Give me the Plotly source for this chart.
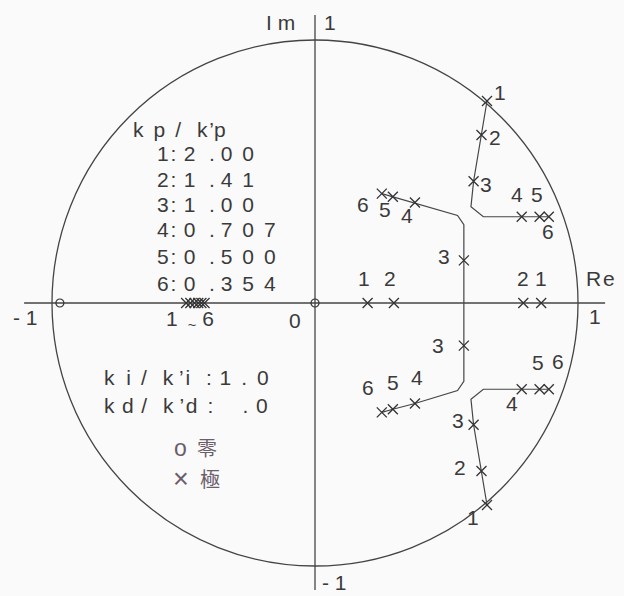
import plotly.graph_objects as go

# ---- root-locus data (z-plane) ----
gains = [1, 2, 3, 4, 5, 6]
kp_ratio = ["2.00", "1.41", "1.00", "0.707", "0.500", "0.354"]

# open-loop zeros
zero_re = [-0.970, 0.0]
zero_im = [0.0, 0.0]

# real pole that stays near -0.45 for every gain (k = 1..6)
left_pole_re = [-0.490, -0.474, -0.458, -0.444, -0.432, -0.420]

# real poles for k = 1, 2 (inner pair before it splits off the axis)
inner_real_k = [1, 2]
inner_real_a = [0.200, 0.300]
inner_real_b = [0.860, 0.792]

# complex inner pair for k = 3..6 (upper half; lower is the conjugate)
inner_k = [3, 4, 5, 6]
inner_re = [0.566, 0.380, 0.296, 0.254]
inner_im = [0.162, 0.382, 0.404, 0.416]

# complex outer pair for k = 1..6 (upper half)
outer_k = [1, 2, 3, 4, 5, 6]
outer_re = [0.654, 0.633, 0.603, 0.786, 0.854, 0.889]
outer_im = [0.768, 0.639, 0.463, 0.328, 0.328, 0.328]

# locus curves traced between the gain points (upper half)
outer_path_re = [0.654, 0.633, 0.603, 0.593, 0.640, 0.786, 0.854, 0.889]
outer_path_im = [0.768, 0.639, 0.463, 0.366, 0.328, 0.328, 0.328, 0.328]
inner_path_re = [0.254, 0.296, 0.380, 0.542, 0.566]
inner_path_im = [0.416, 0.404, 0.382, 0.333, 0.298]

INK = "#3a3a3a"
FONT = "Liberation Sans, Arial, sans-serif"
CJK = "Noto Sans CJK JP, Liberation Sans, sans-serif"
NB = "\u00a0"
TH = "\u2009"
HR = "\u200a"

fig = go.Figure()

# unit circle
fig.add_shape(type="circle", xref="x", yref="y", x0=-1, y0=-1, x1=1, y1=1,
              line=dict(color="#444444", width=1.3), layer="below")
# axes
fig.add_shape(type="line", xref="x", yref="y", x0=-1.106, x1=1.103, y0=0, y1=0,
              line=dict(color="#444444", width=1.3), layer="below")
fig.add_shape(type="line", xref="x", yref="y", x0=0, x1=0, y0=-1.091, y1=1.095,
              line=dict(color="#444444", width=1.3), layer="below")

# locus lines
line_style = dict(color="#454545", width=1.2)
fig.add_trace(go.Scatter(x=outer_path_re, y=outer_path_im, mode="lines", line=line_style))
fig.add_trace(go.Scatter(x=outer_path_re, y=[-v for v in outer_path_im], mode="lines", line=line_style))
fig.add_trace(go.Scatter(
    x=inner_path_re + inner_path_re[::-1],
    y=inner_path_im + [-v for v in inner_path_im[::-1]],
    mode="lines", line=line_style))

# poles
pole_re = (left_pole_re + inner_real_a + inner_real_b
           + inner_re + inner_re + outer_re + outer_re)
pole_im = ([0.0] * len(left_pole_re) + [0.0] * 2 + [0.0] * 2
           + inner_im + [-v for v in inner_im]
           + outer_im + [-v for v in outer_im])
fig.add_trace(go.Scatter(
    x=pole_re, y=pole_im, mode="markers",
    marker=dict(symbol="x-thin", size=10, line=dict(color="#333333", width=1.3))))

# zeros
fig.add_trace(go.Scatter(
    x=zero_re, y=zero_im, mode="markers",
    marker=dict(symbol="circle-open", size=8, color="#333333", line=dict(width=1.2))))

ann = []


def label(x, y, text, size=21, color=INK, xanchor="center", family=FONT):
    ann.append(dict(x=x, y=y, xref="x", yref="y", text=text, showarrow=False,
                    xanchor=xanchor, yanchor="middle",
                    font=dict(family=family, size=size, color=color)))


# gain numbers next to the poles
upper_outer_lbl = [(0.703, 0.802), (0.684, 0.631), (0.650, 0.452),
                   (0.768, 0.411), (0.844, 0.411), (0.886, 0.270)]
lower_outer_lbl = [(0.601, -0.814), (0.551, -0.624), (0.544, -0.445),
                   (0.749, -0.384), (0.848, -0.228), (0.924, -0.224)]
for k, (x, y) in zip(outer_k, upper_outer_lbl):
    label(x, y, str(k))
for k, (x, y) in zip(outer_k, lower_outer_lbl):
    label(x, y, str(k))

upper_inner_lbl = [(0.489, 0.176), (0.350, 0.331), (0.266, 0.354), (0.183, 0.373)]
lower_inner_lbl = [(0.468, -0.163), (0.388, -0.285), (0.297, -0.304), (0.202, -0.323)]
for k, (x, y) in zip(inner_k, upper_inner_lbl):
    label(x, y, str(k))
for k, (x, y) in zip(inner_k, lower_inner_lbl):
    label(x, y, str(k))

for k, xa, xb in zip(inner_real_k, inner_real_a, inner_real_b):
    label(xa - 0.014, 0.095, str(k))
    label(xb, 0.095, str(k))

label(-0.475, -0.065, "1" + NB + TH + "<sub>~</sub>" + NB + "6")

# axis annotations
label(-0.070, 1.068, "I" + NB + "m", xanchor="right")
label(0.057, 1.068, "1")
label(1.023, 0.095, "R" + HR + "e", xanchor="left")
label(1.065, -0.053, "1")
label(-1.099, -0.057, "-" + NB + "1")
label(-0.076, -0.065, "0")
label(0.076, -1.061, "-" + NB + "1")

# parameter table
label(-0.700, 0.658, "k" + NB + TH + "p" + NB + TH + "/" + NB + NB + TH + "k" + HR + "\u2019p",
      xanchor="left")
ys = [0.570, 0.471, 0.376, 0.278, 0.175, 0.076]
for k, v, y in zip(gains, kp_ratio, ys):
    ip, fp = v.split(".")
    txt = f"{k}" + HR + ":" + NB + HR + ip + NB + NB + HR + "." + NB + (NB + TH).join(fp)
    label(-0.608, y, txt, xanchor="left")

label(-0.810, -0.285,
      "k" + NB + TH + HR + "i" + NB + TH + "/" + NB + NB + TH + "k" + NB + "\u2019" + HR + "i"
      + NB + NB + TH + ":" + NB + HR + "1" + NB + TH + "." + NB + TH + "0",
      xanchor="left")
label(-0.810, -0.388,
      "k" + NB + HR + "d" + NB + HR + "/" + NB + NB + TH + "k" + NB + "\u2019" + HR + "d"
      + NB + TH + ":" + NB * 5 + "." + NB + HR + "0",
      xanchor="left")

# marker key
KEY = "#6a5e6a"
label(-0.513, -0.551, "o", color=KEY, size=23)
label(-0.411, -0.551, "零", color=KEY, family=CJK, size=20)
label(-0.510, -0.669, "×", color=KEY, size=27)
label(-0.399, -0.669, "極", color=KEY, family=CJK, size=20)

fig.update_layout(
    width=624, height=596,
    margin=dict(l=0, r=0, t=0, b=0),
    paper_bgcolor="#fafafa", plot_bgcolor="#fafafa",
    showlegend=False,
    annotations=ann,
    xaxis=dict(range=[-1.1977, 1.1749], visible=False, fixedrange=True),
    yaxis=dict(range=[-1.1141, 1.1521], visible=False, fixedrange=True),
)

fig.write_html("out.html")
